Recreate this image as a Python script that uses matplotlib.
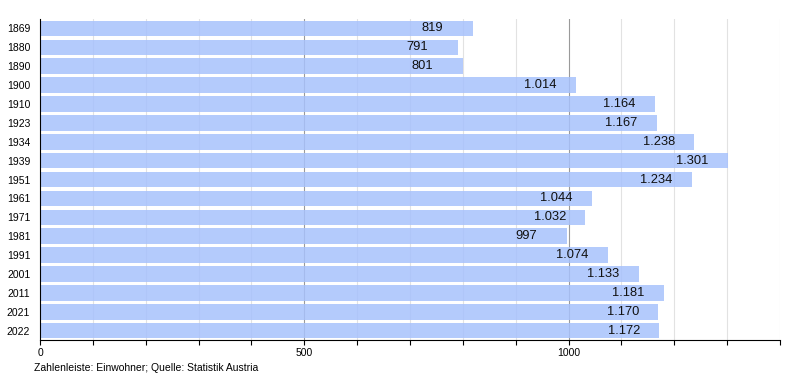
import numpy as np
import matplotlib.pyplot as plt
from matplotlib.ticker import MultipleLocator

##Data
years = ['1869', '1880', '1890', '1900', '1910', '1923', '1934', '1939', '1951',
         '1961', '1971', '1981', '1991', '2001', '2011', '2021', '2022']
einwohner = [819, 791, 801, 1014, 1164, 1167, 1238, 1301, 1234,
             1044, 1032, 997, 1074, 1133, 1181, 1170, 1172]

plt.rcParams['font.family'] = ['Liberation Sans', 'DejaVu Sans']

fig = plt.figure(figsize=(8, 3.8), dpi=100)
ax = fig.add_axes([0.05, 0.105, 0.925, 0.845])

pos = np.arange(len(years))
ax.barh(pos, einwohner, height=0.82, color='#a7c2fc', alpha=0.85, zorder=2)

##Value labels (German thousands separator)
for p, v in zip(pos, einwohner):
    txt = '{:,}'.format(v).replace(',', '.')
    off = -14 if v >= 1000 else -21.5  # short labels sit further left
    ax.annotate(txt, (v, p), xytext=(off, 0), textcoords='offset points',
                ha='right', va='center', fontsize=9.3, color='#111111', zorder=3)

##Grid lines
for gx in range(100, 1500, 100):
    if gx % 500 == 0:
        ax.axvline(gx, color='#9a9a9a', lw=0.8, zorder=1)
    else:
        ax.axvline(gx, color='#e2e2e2', lw=0.8, zorder=1)

ax.set_xlim(0, 1400)
ax.set_ylim(len(years) - 0.5, -0.5)
ax.set_yticks(pos)
ax.set_yticklabels(years, fontsize=7.5)
ax.tick_params(axis='y', length=0, pad=7)
ax.xaxis.set_major_locator(MultipleLocator(500))
ax.xaxis.set_minor_locator(MultipleLocator(100))
ax.tick_params(axis='x', which='both', length=3.5, width=0.8, labelsize=7.5, pad=2)
ax.spines['top'].set_visible(False)
ax.spines['right'].set_visible(False)

fig.text(0.043, 0.018, 'Zahlenleiste: Einwohner; Quelle: Statistik Austria',
         fontsize=7.5, ha='left', va='bottom')

plt.savefig('out.png', dpi=100)
